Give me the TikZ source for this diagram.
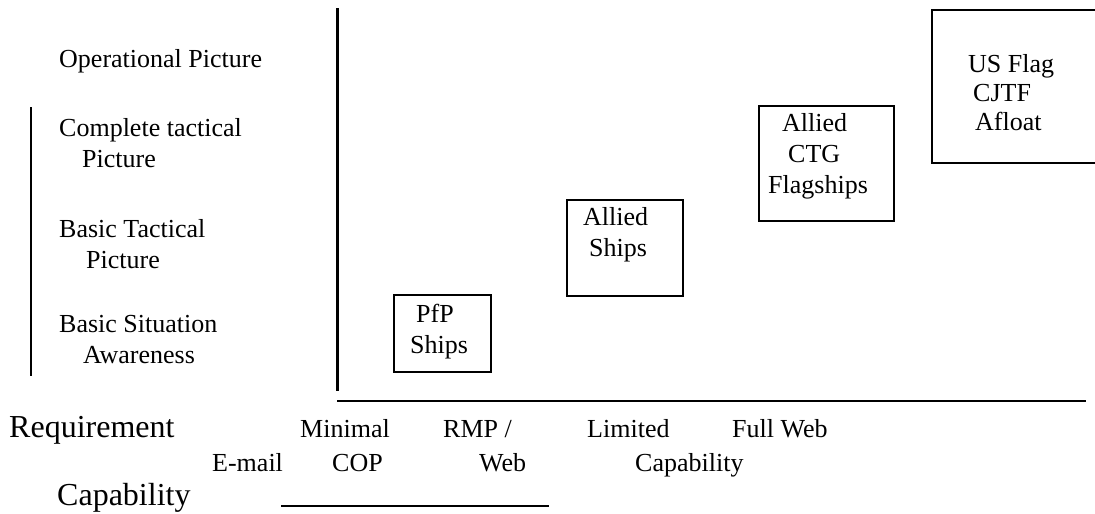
\documentclass[tikz,border=0pt]{standalone}
\usepackage{fontspec}
\setmainfont{Liberation Serif}
\begin{document}
\begin{tikzpicture}[x=1pt,y=-1pt,
  rule/.style={line width=2.6pt},
  shipbox/.style={draw,line width=2.4pt,inner sep=0pt},
  lbl/.style={anchor=base west,inner sep=0pt,font=\fontsize{26}{31}\selectfont},
  biglbl/.style={anchor=base west,inner sep=0pt,font=\fontsize{32}{38}\selectfont}]
\useasboundingbox (0,0) rectangle (1095,514);
\clip (0,0) rectangle (1095,514);
% axes
\coordinate (vtop) at (337.5,8);
\coordinate (vbot) at (337.5,391);
\coordinate (hl) at (337,401);
\coordinate (hr) at (1086,401);
\coordinate (ltop) at (31,107);
\coordinate (lbot) at (31,376);
\coordinate (ul) at (281,506);
\coordinate (ur) at (549,506);
\draw[rule] (vtop) -- (vbot);
\draw[rule] (hl) -- (hr);
\draw[rule] (ltop) -- (lbot);
\draw[rule] (ul) -- (ur);
% left labels
\node[lbl] (op) at (59,67) {Operational Picture};
\node[lbl] (ctp) at (59,136) {\begin{tabular}[t]{@{}l@{}}Complete tactical\\\hspace*{23pt}Picture\end{tabular}};
\node[lbl] (btp) at (59,237) {\begin{tabular}[t]{@{}l@{}}Basic Tactical\\\hspace*{27pt}Picture\end{tabular}};
\node[lbl] (bsa) at (59,332) {\begin{tabular}[t]{@{}l@{}}Basic Situation\\\hspace*{24pt}Awareness\end{tabular}};
% boxes
\node[shipbox,minimum width=97pt,minimum height=77pt] (pfp) at (442.5,333.5) {};
\node[shipbox,minimum width=116pt,minimum height=96pt] (als) at (625,248) {};
\node[shipbox,minimum width=135pt,minimum height=115pt] (ctg) at (826.5,163.5) {};
\node[shipbox,minimum width=170pt,minimum height=153pt] (us) at (1017,86.5) {};
\node[lbl] (pfpt) at (410,322) {\begin{tabular}[t]{@{}l@{}}\hspace*{6pt}PfP\\Ships\end{tabular}};
\node[lbl] (alst) at (583,225) {\begin{tabular}[t]{@{}l@{}}Allied\\\hspace*{6pt}Ships\end{tabular}};
\node[lbl] (ctgt) at (768,131) {\begin{tabular}[t]{@{}l@{}}\hspace*{14pt}Allied\\\hspace*{20pt}CTG\\Flagships\end{tabular}};
\node[lbl,font=\fontsize{26}{29}\selectfont] (ust) at (968,72) {\begin{tabular}[t]{@{}l@{}}US Flag\\\hspace*{5pt}CJTF\\\hspace*{7pt}Afloat\end{tabular}};
% bottom labels
\node[biglbl] (req) at (9,437) {Requirement};
\node[biglbl] (cap) at (57,505) {Capability};
\node[lbl] (min) at (300,437) {Minimal};
\node[lbl] (rmp) at (443,437) {RMP /};
\node[lbl] (lim) at (587,437) {Limited};
\node[lbl] (full) at (732,437) {Full Web};
\node[lbl] (email) at (212,471) {E-mail};
\node[lbl] (cop) at (332,471) {COP};
\node[lbl] (web) at (479,471) {Web};
\node[lbl] (capb) at (635,471) {Capability};
\end{tikzpicture}
\end{document}
